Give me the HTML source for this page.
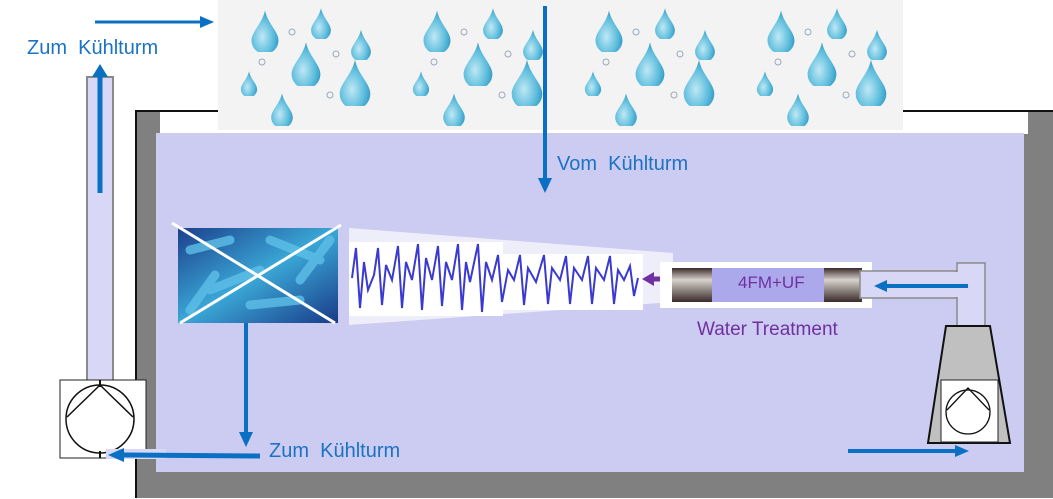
<!DOCTYPE html>
<html><head><meta charset="utf-8"><style>
html,body{margin:0;padding:0;background:#fff;}
body{width:1053px;height:499px;overflow:hidden;position:relative;font-family:"Liberation Sans","DejaVu Sans",sans-serif;}
.t{position:absolute;font-size:20px;color:#1a73c4;white-space:nowrap;}
</style></head><body>
<svg width="1053" height="499" style="position:absolute;left:0;top:0" xmlns="http://www.w3.org/2000/svg">
<defs>
<radialGradient id="dg" cx="0.4" cy="0.6" r="0.7"><stop offset="0" stop-color="#bfe8f5"/><stop offset="0.6" stop-color="#5bbcdc"/><stop offset="1" stop-color="#2a8cb8"/></radialGradient>
<symbol id="drop" viewBox="-10 -16 20 28"><path d="M0,-15 C2,-6 9,-1 9,5 A9,9 0 0 1 -9,5 C-9,-1 -2,-6 0,-15Z" fill="url(#dg)"/></symbol>
<linearGradient id="bac" x1="0" y1="0" x2="1" y2="1"><stop offset="0" stop-color="#1c3f8c"/><stop offset="0.5" stop-color="#3aa7d6"/><stop offset="1" stop-color="#1a3a88"/></linearGradient>
<linearGradient id="tube" x1="0" y1="0" x2="0" y2="1"><stop offset="0" stop-color="#3a2a2a"/><stop offset="0.35" stop-color="#d8d2cc"/><stop offset="0.6" stop-color="#9a928c"/><stop offset="1" stop-color="#3a2a2a"/></linearGradient>
</defs>
<!-- tank -->
<rect x="135" y="110" width="925" height="388" fill="#808080"/>
<path d="M136,498 L136,111 L1060,111" fill="none" stroke="#111" stroke-width="2"/>
<rect x="160" y="112" width="868" height="22" fill="#fff"/>
<rect x="156" y="133" width="868" height="339" fill="#cccbf2"/>
<!-- drops strip -->
<rect x="218" y="0" width="685" height="130" fill="#f3f3f3"/>
<g id="tile">
<use href="#drop" x="250" y="8" width="30" height="44"/>
<use href="#drop" x="310" y="6" width="22" height="33"/>
<use href="#drop" x="350" y="28" width="22" height="32"/>
<use href="#drop" x="290" y="40" width="32" height="46"/>
<use href="#drop" x="338" y="58" width="34" height="48"/>
<use href="#drop" x="240" y="70" width="18" height="26"/>
<use href="#drop" x="270" y="92" width="24" height="34"/>
<circle cx="292" cy="32" r="3" fill="none" stroke="#9ab" stroke-width="1"/>
<circle cx="262" cy="62" r="3" fill="none" stroke="#9ab"/>
<circle cx="336" cy="54" r="3" fill="none" stroke="#9ab"/>
<circle cx="330" cy="95" r="3" fill="none" stroke="#9ab"/>
</g>
<use href="#tile" x="172"/>
<use href="#tile" x="344"/>
<use href="#tile" x="516"/>
<!-- left pipe -->
<rect x="87" y="77" width="26" height="304" fill="#d8d8f6" stroke="#8a8a8a" stroke-width="2"/>
<rect x="60" y="380" width="86" height="78" fill="#fff" stroke="#222" stroke-width="1"/>
<circle cx="100" cy="419" r="34" fill="#fff" stroke="#111" stroke-width="1.5"/>
<path d="M67,417 L100,385 L133,417" fill="none" stroke="#111" stroke-width="1.5"/>
<line x1="100" y1="380" x2="100" y2="387" stroke="#111" stroke-width="2"/>
<line x1="100" y1="451" x2="100" y2="458" stroke="#111" stroke-width="2"/>
<!-- left arrows -->
<line x1="100" y1="193" x2="100" y2="75" stroke="#0a70c4" stroke-width="5"/>
<path d="M92,77 L100,64 L108,77Z" fill="#0a70c4"/>
<line x1="95" y1="22" x2="200" y2="22" stroke="#0a70c4" stroke-width="3"/>
<path d="M200,16 L214,22 L200,28Z" fill="#0a70c4"/>
<rect x="106" y="449" width="60" height="10" fill="#d8d8f6"/>
<line x1="260" y1="456" x2="122" y2="455" stroke="#0a70c4" stroke-width="5"/>
<path d="M124,448 L108,455 L124,462Z" fill="#0a70c4"/>
<line x1="246" y1="323" x2="246" y2="432" stroke="#0a70c4" stroke-width="4"/>
<path d="M239,432 L246,447 L253,432Z" fill="#0a70c4"/>
<!-- vom arrow -->
<line x1="545" y1="6" x2="545" y2="178" stroke="#0a70c4" stroke-width="4"/>
<path d="M538,178 L545,193 L552,178Z" fill="#0a70c4"/>
<!-- bacteria -->
<rect x="178" y="228" width="160" height="95" fill="url(#bac)"/>
<g stroke="#5ec0e8" stroke-width="9" stroke-linecap="round" opacity="0.8">
<line x1="190" y1="250" x2="230" y2="240"/><line x1="210" y1="290" x2="260" y2="270"/><line x1="270" y1="240" x2="320" y2="260"/><line x1="250" y1="305" x2="300" y2="300"/><line x1="190" y1="310" x2="215" y2="275"/><line x1="300" y1="280" x2="330" y2="240"/>
</g>
<line x1="172" y1="223" x2="335" y2="323" stroke="#fff" stroke-width="3"/>
<line x1="180" y1="323" x2="341" y2="225" stroke="#fff" stroke-width="3"/>
<!-- wave -->
<path d="M349,228 L673,253 L673,302 L349,325Z" fill="#eeeefa"/>
<rect x="349" y="242" width="154" height="74" fill="#fff"/>
<rect x="503" y="254" width="140" height="56" fill="#fff"/>
<path d="M352,278 L356,248 L360,308 L364,262 L368,290 L374,275 L378,248 L382,305 L386,265 L392,280 L398,246 L402,308 L406,262 L412,280 L418,244 L422,310 L426,258 L432,280 L438,246 L442,306 L446,262 L452,280 L458,244 L462,310 L466,262 L470,282 L478,244 L482,312 L486,262 L492,280 L498,255 L502,302 L508,270 L514,280 L520,255 L524,305 L528,268 L536,282 L544,255 L548,304 L552,268 L560,280 L566,256 L570,304 L574,268 L582,280 L588,256 L592,304 L596,268 L604,280 L610,256 L614,304 L618,270 L624,280 L630,266 L634,296 L638,278" fill="none" stroke="#3a3ad0" stroke-width="2"/>
<line x1="667" y1="279" x2="652" y2="279" stroke="#7030a0" stroke-width="5"/>
<path d="M654,272 L642,279 L654,286Z" fill="#7030a0"/>
<!-- filter -->
<rect x="660" y="262" width="212" height="46" fill="#fff"/>
<rect x="672" y="268" width="190" height="34" fill="url(#tube)"/>
<rect x="712" y="268" width="112" height="34" fill="#aba9ec"/>
<!-- right pipe -->
<rect x="860" y="271" width="96" height="27" fill="#d8d8f6" stroke="#8a8a8a" stroke-width="1.5"/>
<rect x="957" y="263" width="28" height="64" fill="#d8d8f6" stroke="#8a8a8a" stroke-width="1.5"/>
<rect x="950" y="272" width="14" height="25" fill="#d8d8f6"/>
<line x1="968" y1="286" x2="885" y2="286" stroke="#0a70c4" stroke-width="4"/>
<path d="M887,280 L874,286 L887,292Z" fill="#0a70c4"/>
<path d="M946,326 L990,326 L1010,443 L928,443Z" fill="#c0c0c0" stroke="#111" stroke-width="2"/>
<rect x="941" y="380" width="57" height="62" fill="#fff" stroke="#222" stroke-width="1"/>
<circle cx="968" cy="412" r="22" fill="#fff" stroke="#111" stroke-width="1.3"/>
<path d="M947,410 L968,388 L989,410" fill="none" stroke="#111" stroke-width="1.3"/>
<line x1="848" y1="451" x2="955" y2="451" stroke="#0a70c4" stroke-width="4"/>
<path d="M955,445 L969,451 L955,457Z" fill="#0a70c4"/>
</svg>
<div class="t" style="left:27px;top:37px;">Zum&nbsp; Kühlturm</div>
<div class="t" style="left:557px;top:153px;">Vom&nbsp; Kühlturm</div>
<div class="t" style="left:269px;top:440px;">Zum&nbsp; Kühlturm</div>
<div class="t" style="left:738px;top:273px;color:#7030a0;font-size:17px;">4FM+UF</div>
<div class="t" style="left:697px;top:319px;color:#7030a0;font-size:19px;">Water Treatment</div>
</body></html>
